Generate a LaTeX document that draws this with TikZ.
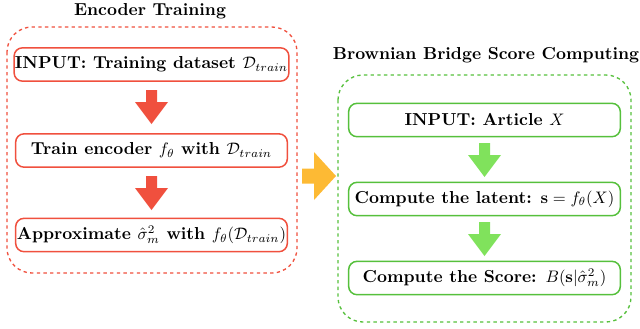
\documentclass[tikz,border=0pt]{standalone}
\usepackage{amsmath}
\usepackage{amssymb}
\usepackage{tikz}
\usetikzlibrary{positioning}

\definecolor{encred}{RGB}{240,80,62}
\definecolor{bbgreen}{RGB}{86,192,60}
\definecolor{bbarrow}{RGB}{128,226,92}
\definecolor{linkorange}{RGB}{253,186,52}

\newcommand{\boxfont}{\fontsize{10.4}{12.5}\selectfont\bfseries}

\tikzset{
  stage/.style={draw, rounded corners=5pt, line width=0.9pt, minimum width=163pt,
    minimum height=20pt, inner sep=0.5pt, font=\boxfont},
  frame/.style={draw, dashed, dash pattern=on 2pt off 2pt, line width=0.8pt, rounded corners=15pt},
  fatdown/.pic={
    \fill (-5.5,0) -- (5.5,0) -- (5.5,12) -- (16.5,12) -- (0,34) -- (-16.5,12) -- (-5.5,12) -- cycle;
  }
}

\begin{document}
\begin{tikzpicture}[x=0.6pt, y=-0.6pt]
    \useasboundingbox (0,0) rectangle (640,328);

    % encoder training block
    \draw [frame, encred] (7,27) rectangle (297,273);
    \node [font=\boxfont] (enctitle) at (150,11) {Encoder Training};
    \begin{scope}[every node/.style={stage, draw=encred}]
      \node (input) at (151.5,64.5) {INPUT: Training dataset $\mathcal{D}_{train}$};
      \node (train) at (151.5,150.5) {Train encoder $f_\theta$ with $\mathcal{D}_{train}$};
      \node (approx) at (151.5,235) {Approximate $\hat{\sigma}^2_m$ with $f_\theta(\mathcal{D}_{train})$};
    \end{scope}
    \begin{scope}[encred]
      \pic at (151.5,90) {fatdown};
      \pic at (151.5,176) {fatdown};
    \end{scope}

    % score computing block
    \draw [frame, bbgreen] (338,75) rectangle (631,322);
    \node [font=\boxfont] (bbtitle) at (486,55) {Brownian Bridge Score Computing};
    \begin{scope}[every node/.style={stage, draw=bbgreen}]
      \node (article) at (484.5,120) {INPUT: Article $X$};
      \node (latent) at (484.5,199) {Compute the latent: $\mathbf{s} = f_\theta(X)$};
      \node (score) at (484.5,278) {Compute the Score: $B(\mathbf{s}|\hat{\sigma}_m^2)$};
    \end{scope}
    \begin{scope}[bbarrow]
      \pic at (484.5,143) {fatdown};
      \pic at (484.5,222) {fatdown};
    \end{scope}

    % link between the two blocks
    \fill [linkorange] (302,168.5) -- (314,168.5) -- (314,152) -- (336,176)
      -- (314,200) -- (314,183.5) -- (302,183.5) -- cycle;
\end{tikzpicture}
\end{document}
